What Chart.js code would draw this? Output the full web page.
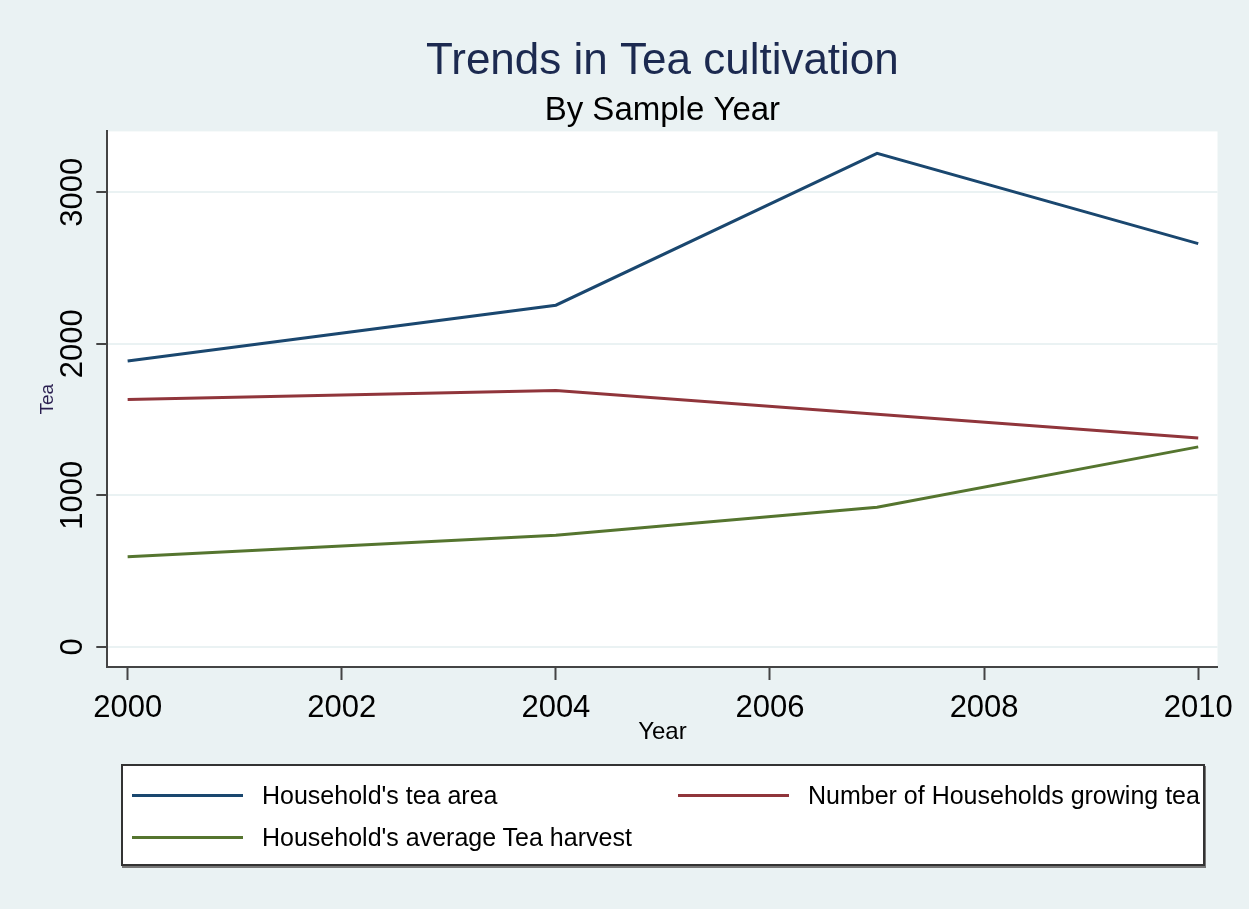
<!DOCTYPE html>
<html>
<head>
<meta charset="utf-8">
<script src="https://cdn.jsdelivr.net/npm/chart.js@4.4.0/dist/chart.umd.min.js"></script>
<style>
  html, body { margin: 0; padding: 0; background: #eaf2f3; }
  #wrap { position: relative; width: 1249px; height: 909px; }
  #legend {
    position: absolute; left: 121px; top: 764px; width: 1080px; height: 98px;
    background: #fff; border: 2px solid #333; box-shadow: 1px 2px 0 #777;
    font-family: "Liberation Sans", Arial, sans-serif; font-size: 25px; color: #000;
  }
  .item { position: absolute; display: flex; align-items: center; height: 30px; }
  .swatch { width: 111px; height: 3px; margin-right: 19px; }
</style>
</head>
<body>
<div id="wrap">
  <canvas id="myChart" width="1249" height="909"></canvas>
  <div id="legend"></div>
</div>
<script>
const years = [2000, 2004, 2007, 2010];
const teaArea = [1887, 2255, 3257, 2661];
const households = [1633, 1692, 1535, 1379];
const harvest = [594, 737, 922, 1320];
const seriesNames = ["Household's tea area", "Number of Households growing tea", "Household's average Tea harvest"];
const seriesColors = ["#1a476f", "#90353b", "#55752f"];
const xTicks = [2000, 2002, 2004, 2006, 2008, 2010];
const yTicks = [0, 1000, 2000, 3000];

function points(vals) {
    return years.map((y, i) => ({ x: y, y: vals[i] }));
}

const data = {
    datasets: [teaArea, households, harvest].map((vals, i) => ({
        label: seriesNames[i],
        data: points(vals),
        borderColor: seriesColors[i],
        backgroundColor: seriesColors[i],
        borderWidth: 3,
        pointRadius: 0,
        tension: 0,
    })),
};

const plotBg = {
    id: "plotBg",
    beforeDraw(chart) {
        const a = chart.chartArea;
        chart.ctx.save();
        chart.ctx.fillStyle = "#ffffff";
        chart.ctx.fillRect(a.left, a.top, a.right - a.left, a.bottom - a.top);
        chart.ctx.restore();
    },
};

const font = "'Liberation Sans', Arial, sans-serif";

const config = {
    type: "line",
    data: data,
    plugins: [plotBg],
    options: {
        responsive: false,
        animation: false,
        devicePixelRatio: 1,
        layout: { padding: { top: 10, left: 0, right: 31.5, bottom: 147 } },
        plugins: {
            legend: { display: false },
            tooltip: { enabled: false },
            title: {
                display: true,
                fullSize: false,
                text: "Trends in Tea cultivation",
                color: "#1c2a50",
                font: { family: font, size: 44, weight: "normal" },
                padding: { top: 25, bottom: 0 },
            },
            subtitle: {
                display: true,
                fullSize: false,
                text: "By Sample Year",
                color: "#000",
                font: { family: font, size: 33, weight: "normal" },
                padding: { top: 3, bottom: 1 },
            },
        },
        scales: {
            x: {
                type: "linear",
                min: 1999.81,
                max: 2010.18,
                afterBuildTicks: s => { s.ticks = xTicks.map(v => ({ value: v })); },
                afterFit: s => { s.height = 95; },
                ticks: {
                    color: "#000",
                    padding: 10,
                    maxRotation: 0,
                    autoSkip: false,
                    font: { family: font, size: 31 },
                    callback: v => String(v),
                },
                grid: { drawOnChartArea: false, drawTicks: true, tickLength: 13, tickColor: "#444", tickWidth: 2 },
                border: { display: true, color: "#444", width: 2 },
                title: {
                    display: true,
                    text: "Year",
                    color: "#000",
                    font: { family: font, size: 24 },
                    padding: { top: 0, bottom: 15 },
                },
            },
            y: {
                type: "linear",
                min: -133,
                max: 3402,
                afterBuildTicks: s => { s.ticks = yTicks.map(v => ({ value: v })); },
                afterFit: s => { s.width = 107.3; },
                ticks: {
                    color: "#000",
                    padding: -12,
                    minRotation: 90,
                    maxRotation: 90,
                    autoSkip: false,
                    crossAlign: "center",
                    font: { family: font, size: 31 },
                    callback: v => String(v),
                },
                grid: { color: "#eaf2f3", lineWidth: 2, tickLength: 11, tickColor: "#444", tickWidth: 2 },
                border: { display: true, color: "#444", width: 2 },
                title: {
                    display: true,
                    text: "Tea",
                    color: "#2a1f50",
                    font: { family: font, size: 19 },
                    padding: { top: 36, bottom: 0 },
                },
            },
        },
    },
};

const myChart = new Chart(document.getElementById("myChart"), config);

// legend box below the chart, two entries per row
const legendBox = document.getElementById("legend");
myChart.data.datasets.forEach((ds, i) => {
    const item = document.createElement("div");
    item.className = "item";
    item.style.left = (9 + (i % 2) * 546) + "px";
    item.style.top = (14 + Math.floor(i / 2) * 42) + "px";
    const sw = document.createElement("span");
    sw.className = "swatch";
    sw.style.background = ds.borderColor;
    const txt = document.createElement("span");
    txt.textContent = ds.label;
    item.appendChild(sw);
    item.appendChild(txt);
    legendBox.appendChild(item);
});
</script>
</body>
</html>
